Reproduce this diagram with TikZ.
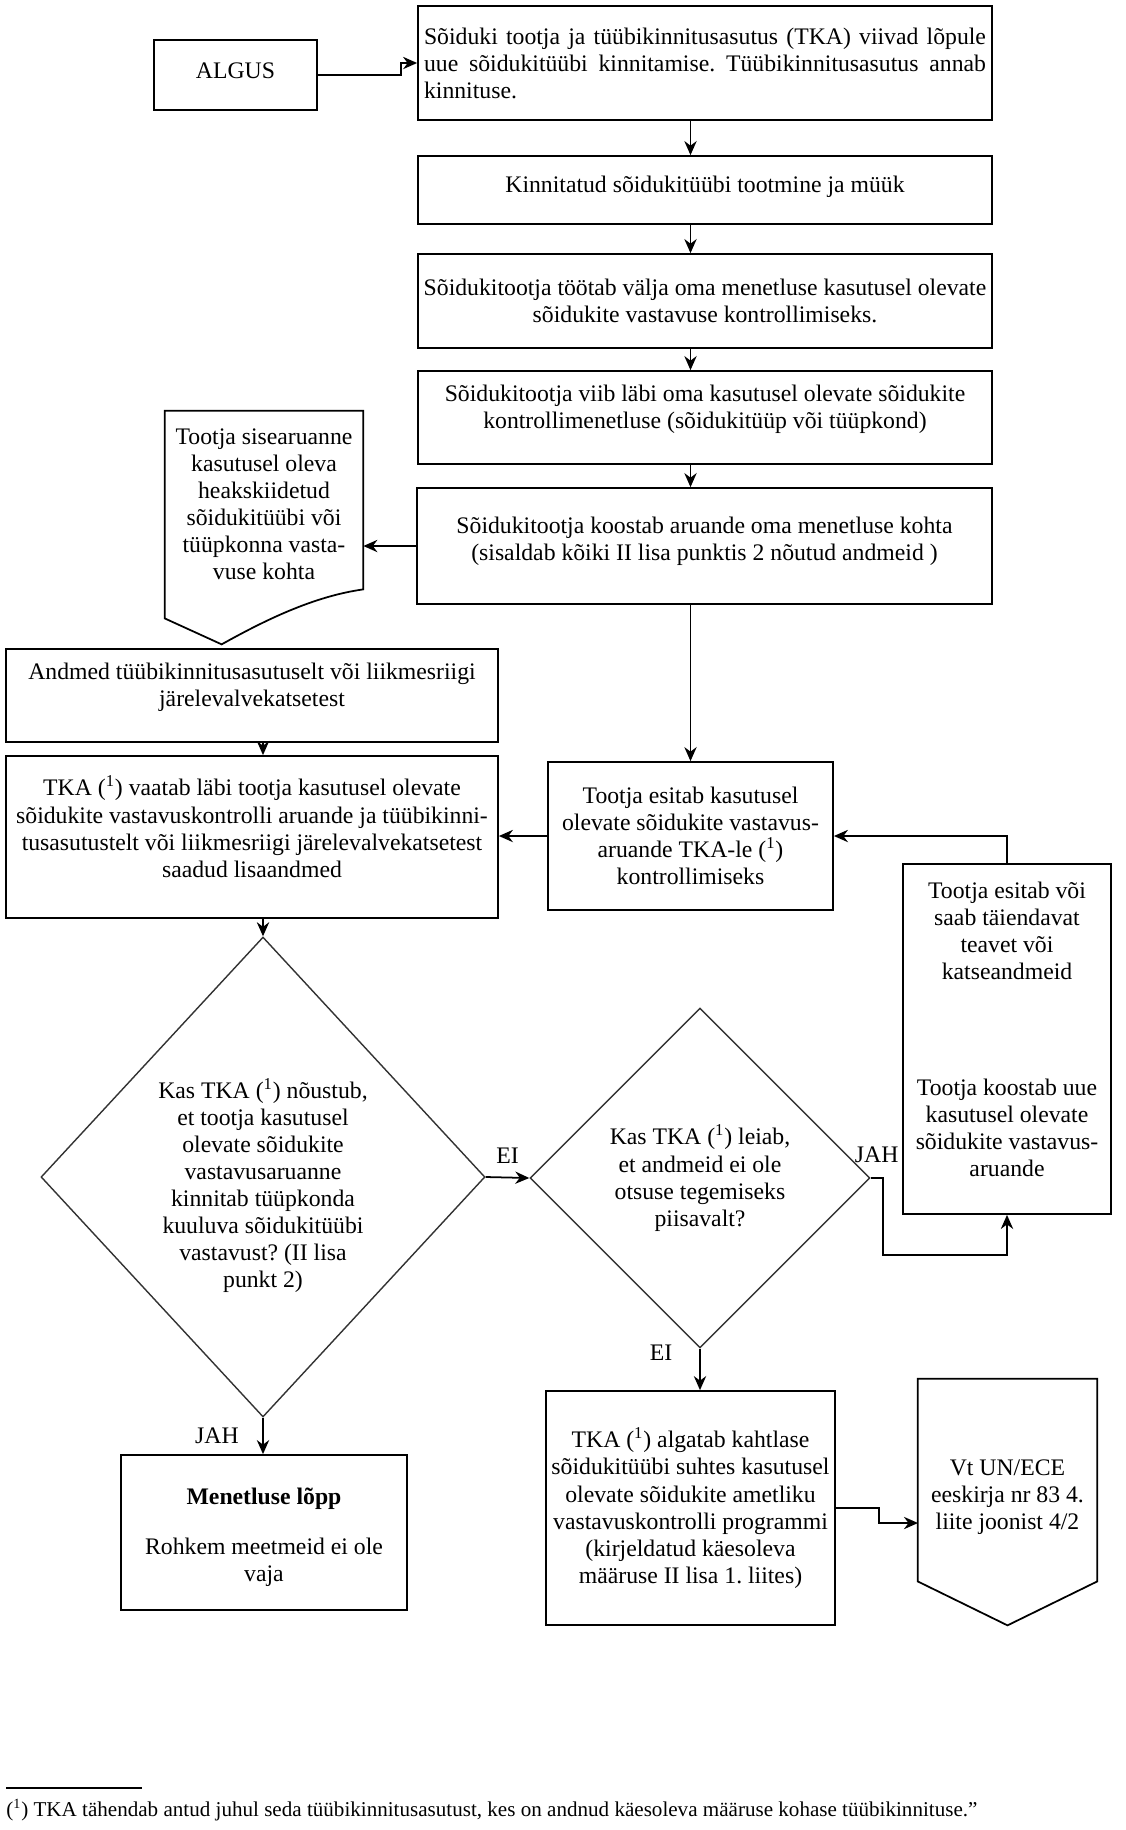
\documentclass[tikz,border=0pt]{standalone}
\usepackage{fontspec}
\setmainfont{Liberation Serif}
\usetikzlibrary{shapes.geometric, arrows.meta, calc}

\newcommand{\viide}{(\textsuperscript{1})}
\newcommand{\pix}{0.02cm}

\begin{document}
\frenchspacing
\begin{tikzpicture}[x=0.02cm, y=-0.02cm,
    tekst/.style={font=\fontsize{13.5}{15.4}\selectfont, align=center},
    kast/.style={tekst, draw, line width=1pt, inner sep=3pt},
    suurus/.style 2 args={minimum width=#1*\pix, minimum height=#2*\pix},
    ylem/.style={text depth=#1},
    romb/.style={tekst, diamond, draw=black!80, line width=0.8pt, inner sep=0pt},
    pil/.style={line width=1pt, -{Stealth[length=8pt, width=7pt]}},
    kontuur/.style={line width=1pt}]
    % Fixed bounding box (pixel-like units, y downwards)
    \useasboundingbox (0,0) rectangle (1126,1830);

    % Upper column
    \node[kast, suurus={163}{70}, ylem=5pt] (algus) at (235.5,75) {ALGUS};
    \node[kast, suurus={574}{114}, text width=11.24cm, align=justify] (kinnit) at (705,63)
        {Sõiduki tootja ja tüübikinnitusasutus (TKA) viivad lõpule\linebreak uue sõidukitüübi kinnitamise. Tüübikinnitusasutus annab\linebreak kinnituse.};
    \node[kast, suurus={574}{68}, ylem=7pt] (tootm) at (705,190) {Kinnitatud sõidukitüübi tootmine ja müük};
    \node[kast, suurus={574}{94}] (menet) at (705,301)
        {Sõidukitootja töötab välja oma menetluse kasutusel olevate\\sõidukite vastavuse kontrollimiseks.};
    \node[kast, suurus={574}{93}, ylem=12pt] (kontr) at (705,417.5)
        {Sõidukitootja viib läbi oma kasutusel olevate sõidukite\\kontrollimenetluse (sõidukitüüp või tüüpkond)};
    \node[kast, suurus={575}{116}, ylem=8pt] (aruan) at (704.5,546)
        {Sõidukitootja koostab aruande oma menetluse kohta\\(sisaldab kõiki II lisa punktis 2 nõutud andmeid )};

    % Document shape
    \node[tekst, suurus={198}{207}, ylem=12pt] (sise) at (264,514.5)
        {Tootja sisearuanne\\kasutusel oleva\\heakskiidetud\\sõidukitüübi või\\tüüpkonna vasta-\\vuse kohta};
    \draw[kontuur] (sise.south west) -- (sise.north west) -- (sise.north east)
        -- ($(sise.south east)+(0,-29)$)
        .. controls ($(sise.south east)+(-50,-22)$) and ($(sise.south west)+(100,2)$) .. ($(sise.south west)+(57,26)$)
        -- cycle;

    % Middle part
    \node[kast, suurus={492}{93}, ylem=12pt] (andmed) at (252,695.5)
        {Andmed tüübikinnitusasutuselt või liikmesriigi\\järelevalvekatsetest};
    \node[kast, suurus={492}{162}, ylem=12pt] (vaatab) at (252,837)
        {TKA \viide{} vaatab läbi tootja kasutusel olevate\\sõidukite vastavuskontrolli aruande ja tüübikinni-\\tusasutustelt või liikmesriigi järelevalvekatsetest\\saadud lisaandmed};
    \node[kast, suurus={285}{148}] (esitab) at (690.5,836)
        {Tootja esitab kasutusel\\olevate sõidukite vastavus-\\aruande TKA-le \viide\\kontrollimiseks};
    \node[kast, suurus={208}{350}] (lisa) at (1007,1039) {};
    \node[tekst] (lisa1) at (1007,931) {Tootja esitab või\\saab täiendavat\\teavet või\\katseandmeid};
    \node[tekst] (lisa2) at (1007,1128) {Tootja koostab uue\\kasutusel olevate\\sõidukite vastavus-\\aruande};

    % Decisions
    \node[romb, suurus={444}{480}] (kas1) at (263,1177)
        {\rule{0pt}{21pt}Kas TKA \viide{} nõustub,\\et tootja kasutusel\\olevate sõidukite\\vastavusaruanne\\kinnitab tüüpkonda\\kuuluva sõidukitüübi\\vastavust? (II lisa\\punkt 2)};
    \node[romb, suurus={340}{340}] (kas2) at (700,1178)
        {Kas TKA \viide{} leiab,\\et andmeid ei ole\\otsuse tegemiseks\\piisavalt?};

    % Bottom row
    \node[kast, suurus={286}{155}] (lopp) at (264,1532.5)
        {\rule{0pt}{15pt}\textbf{Menetluse lõpp}\\[13pt]Rohkem meetmeid ei ole\\vaja};
    \node[kast, suurus={285}{234}] (algatab) at (690.5,1508)
        {TKA \viide{} algatab kahtlase\\sõidukitüübi suhtes kasutusel\\olevate sõidukite ametliku\\vastavuskontrolli programmi\\(kirjeldatud käesoleva\\määruse II lisa 1. liites)};
    \node[tekst, suurus={179}{236}] (unece) at (1007.5,1497)
        {Vt UN/ECE\\eeskirja nr 83 4.\\liite joonist 4/2};
    \draw[kontuur] ($(unece.south west)+(0,-34)$) -- (unece.north west) -- (unece.north east)
        -- ($(unece.south east)+(0,-34)$) -- ($(unece.south)+(0,10)$) -- cycle;
    \coordinate (unece-in) at (918,1523);

    % Connectors
    \draw[pil] (algus.east) -- ++(83,0) |- (kinnit.west);
    \draw[pil] (kinnit.south -| esitab) -- (tootm.north -| esitab);
    \draw[pil] (tootm.south -| esitab) -- (menet.north -| esitab);
    \draw[pil] (menet.south -| esitab) -- (kontr.north -| esitab);
    \draw[pil] (kontr.south -| esitab) -- (aruan.north -| esitab);
    \draw[pil] (aruan.south -| esitab) -- (esitab.north);
    \draw[pil] (aruan.west) -- (aruan.west -| sise.east);
    \draw[pil] (andmed.south -| kas1) -- (vaatab.north -| kas1);
    \draw[pil] (vaatab.south -| kas1) -- (kas1.north);
    \draw[pil] (esitab.west) -- (esitab.west -| vaatab.east);
    \draw[pil] (lisa.north) |- (esitab.east);
    \draw[pil] (kas1.east) -- node[tekst, above=4pt] (ei1) {EI} (kas2.west);
    \draw[pil] (kas2.east) -- node[tekst, above=5pt] (jah1) {JAH} ++(12,0) -- ++(0,77) -| (lisa.south);
    \draw[pil] (kas2.south) -- node[tekst, left=12pt, pos=0.1] (ei2) {EI} (algatab.north -| kas2);
    \draw[pil] (kas1.south) -- node[tekst, left=10pt] (jah2) {JAH} (lopp.north -| kas1);
    \draw[pil] (algatab.east) -- ++(43,0) |- (unece-in);

    % Footnote
    \draw[line width=1pt] (6,1788) -- (142,1788);
    \node[anchor=west, inner sep=0pt, font=\fontsize{12}{14}\selectfont] (allm) at (6,1810)
        {\viide{} TKA tähendab antud juhul seda tüübikinnitusasutust, kes on andnud käesoleva määruse kohase tüübikinnituse.”};
\end{tikzpicture}
\end{document}
